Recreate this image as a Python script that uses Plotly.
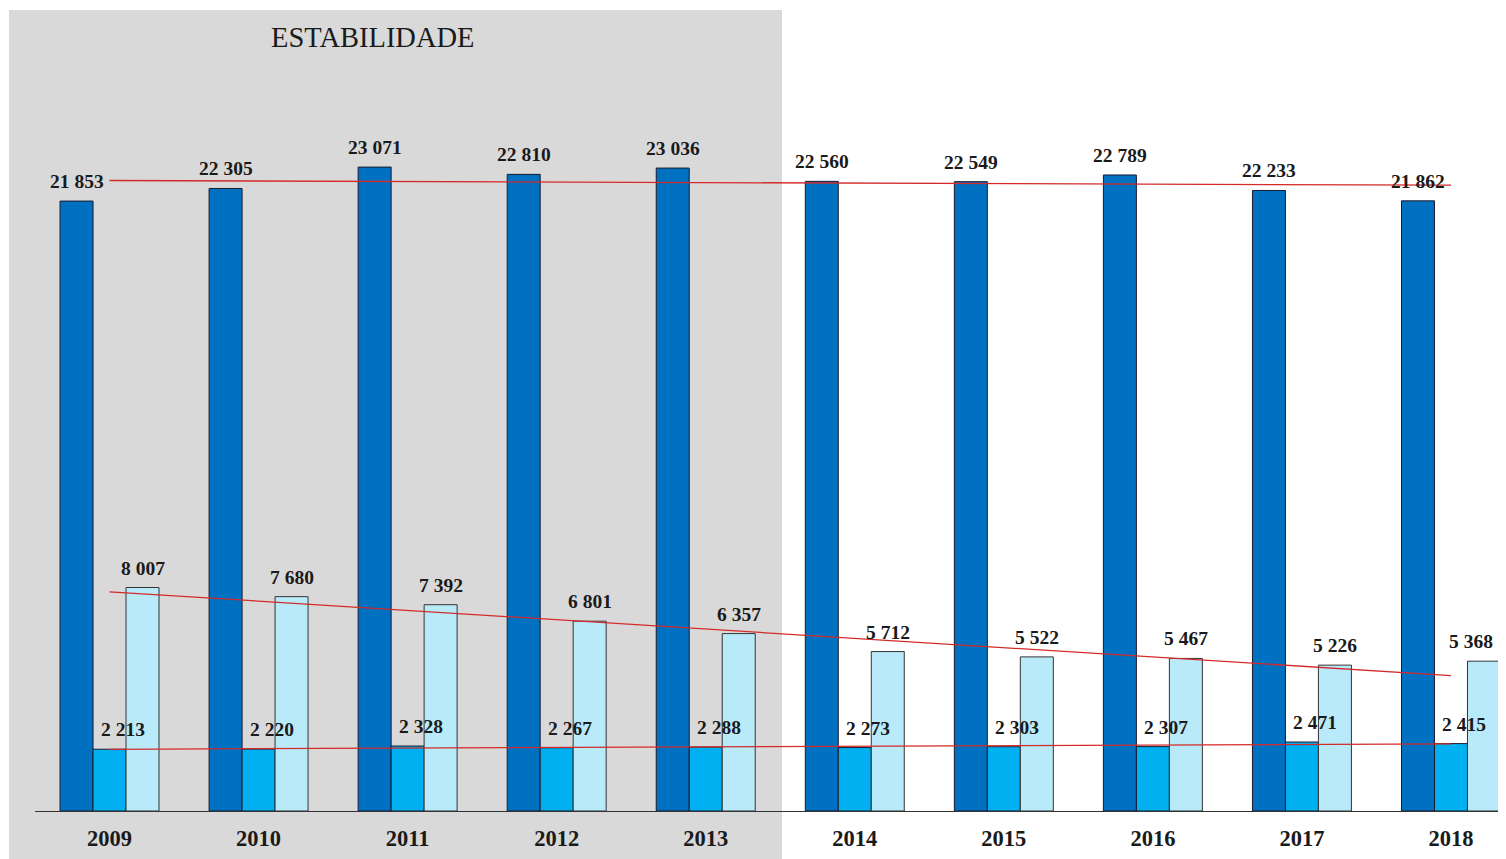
import numpy as np
import plotly.graph_objects as go

years = ["2009", "2010", "2011", "2012", "2013", "2014", "2015", "2016", "2017", "2018"]
serie_total = [21853, 22305, 23071, 22810, 23036, 22560, 22549, 22789, 22233, 21862]
serie_media = [2213, 2220, 2328, 2267, 2288, 2273, 2303, 2307, 2471, 2415]
serie_clara = [8007, 7680, 7392, 6801, 6357, 5712, 5522, 5467, 5226, 5368]

colors = ["#0070C0", "#00B0F0", "#B8EAFA"]
outline = ["#1a1a2e", "#1a1a2e", "#333333"]

def fmt(v):
    return f"{v:,}".replace(",", " ")

OFF = 8  # page body margin
W, H = 1506 - OFF, 859 - OFF
BASE = 811 - OFF          # baseline in figure px
ML = 35 - OFF
MB = H - BASE
plot_w = W - ML
px_per_cat = 149.05
x_right = -0.5 + plot_w / px_per_cat
y_top = BASE / 0.02791

def px_x(x):
    return (x - OFF - ML) / plot_w

def px_y(y):
    return (BASE - (y - OFF)) / BASE

serif = "Liberation Serif, Times New Roman, serif"

fig = go.Figure()
idx = list(range(len(years)))
for vals, c, lc, nm in zip([serie_total, serie_media, serie_clara], colors, outline, ["A", "B", "C"]):
    fig.add_trace(go.Bar(x=idx, y=vals, name=nm, marker=dict(color=c, line=dict(color=lc, width=1)),
                         hoverinfo="y"))

# trendlines (linear)
xs = np.array(idx, dtype=float)
for vals in [serie_total, serie_clara, serie_media]:
    a, b = np.polyfit(xs, np.array(vals, dtype=float), 1)
    fig.add_trace(go.Scatter(x=[xs[0], xs[-1]], y=[b + a * xs[0], b + a * xs[-1]], mode="lines",
                             line=dict(color="#D42A2A", width=1.3), hoverinfo="skip"))

# data labels
offsets = [-1 / 3 * (1 - 0.336), 0, 1 / 3 * (1 - 0.336)]
xshifts = [0, 13, 0]
lab_font = dict(family=serif, size=19.5, color="#1a1a1a")
for k, vals in enumerate([serie_total, serie_media, serie_clara]):
    for i, v in enumerate(vals):
        xs_ = xshifts[k]
        if k == 2 and i == len(vals) - 1:
            xs_ = -13
        fig.add_annotation(x=i + offsets[k], y=v, text="<b>" + fmt(v) + "</b>", showarrow=False,
                           yanchor="bottom", yshift=7, xshift=xs_, font=lab_font)

# shaded "stability" region
fig.add_shape(type="rect", xref="paper", yref="paper",
              x0=px_x(9), x1=px_x(782), y0=px_y(859), y1=px_y(10),
              fillcolor="#D9D9D9", line=dict(width=0), layer="below")
fig.add_annotation(xref="paper", yref="paper", x=px_x(373), y=px_y(37),
                   text="ESTABILIDADE", showarrow=False, xanchor="center", yanchor="middle",
                   font=dict(family=serif, size=28.5, color="#1a1a1a"))

fig.update_layout(
    width=W, height=H,
    margin=dict(l=ML, r=0, t=0, b=MB),
    barmode="group", bargap=0.336, bargroupgap=0,
    showlegend=False,
    paper_bgcolor="white", plot_bgcolor="rgba(0,0,0,0)",
)
fig.update_xaxes(range=[-0.5, x_right], tickmode="array", tickvals=idx,
                 ticktext=["<b>" + y + "</b>" for y in years],
                 showline=True, linecolor="#333333", linewidth=1, showgrid=False, zeroline=False,
                 ticks="", ticklabelstandoff=7,
                 tickfont=dict(family=serif, size=22.5, color="#1a1a1a"))
fig.update_yaxes(range=[0, y_top], visible=False, showgrid=False, zeroline=False)

fig.write_html("out.html")
